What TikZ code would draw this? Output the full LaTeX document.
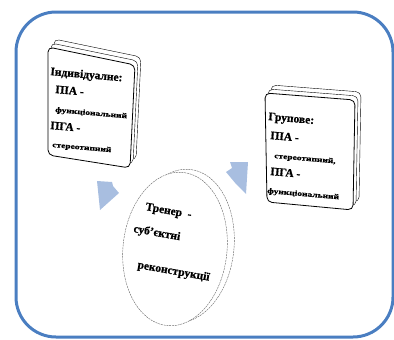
\documentclass[tikz,border=0pt]{standalone}
\usepackage{fontspec}
\setmainfont{Liberation Serif}[BoldFeatures={FakeBold=0.8}]
\newfontfamily\widefont{Liberation Serif}[FakeStretch=1.3, BoldFeatures={FakeBold=0.8}]
\definecolor{frameblue}{RGB}{74,126,193}
\definecolor{arrowblue}{RGB}{168,190,224}
\tikzset{
  bigtxt/.style={font=\fontsize{11.5}{12}\selectfont\bfseries, inner sep=0pt, anchor=base west},
  smalltxt/.style={font=\widefont\fontsize{7.3}{8}\selectfont\bfseries, inner sep=0pt, anchor=base west},
  layer/.style={draw=black, rounded corners=5pt, fill=white},
  disc/.style={draw=black!60, dash pattern=on 2pt off 0.8pt, fill=white}
}
\begin{document}
\begin{tikzpicture}[x=1pt,y=-1pt]
  \useasboundingbox (0,0) rectangle (394,340);

  %% frame
  \draw[frameblue, line width=3pt, rounded corners=40pt] (16,12) rectangle (393,337);

  %% left box (individual)
  \draw[layer, thin] (54,39) -- (141,57) -- (136,160) -- (54,147) -- cycle;
  \draw[layer, thin] (51,43) -- (138,61) -- (133,164) -- (51,151) -- cycle;
  \draw[layer, thick] (48,47) -- (135,65) -- (130,168) -- (48,155) -- cycle;

  %% right box (group)
  \draw[layer, thin] (271,85) -- (361,92) -- (359,202) -- (273,194) -- cycle;
  \draw[layer, thin] (268,89) -- (358,96) -- (356,206) -- (270,198) -- cycle;
  \draw[layer, thick] (265,93) -- (355,100) -- (353,210) -- (267,202) -- cycle;

  %% arrows
  \fill[arrowblue] (97,181) -- (112,182) -- (113,186) -- (119,193) -- (100,210) -- cycle;
  \fill[arrowblue] (230,162) -- (248,162) -- (246,194) -- (236,184) -- (226,172) -- (232,168) -- cycle;

  %% disc (coach)
  \draw[disc] (182,246) ellipse [x radius=52, y radius=77, rotate=-6];
  \draw[disc] (175,249) ellipse [x radius=52, y radius=77, rotate=-6];

  %% left text
  \node[bigtxt, rotate=-5] (ind) at (50,75) {Індивідуалне:};
  \node[bigtxt, rotate=-5] (pia1) at (55,93) {ПІА -};
  \node[smalltxt, rotate=-5] (func1) at (55,112) {функціональний};
  \node[bigtxt, rotate=-5] (pga1) at (50,129) {ПГА  -};
  \node[smalltxt, rotate=-5] (ster1) at (52,147) {стереотипний};

  %% right text
  \node[bigtxt, rotate=-5] (grp) at (268,120) {Групове:};
  \node[bigtxt, rotate=-5] (pia2) at (270,139) {ПІА -};
  \node[smalltxt, rotate=-5] (ster2) at (274,158) {стереотипний,};
  \node[bigtxt, rotate=-5] (pga2) at (270,175) {ПГА -};
  \node[smalltxt, rotate=-5] (func2) at (267,193) {функціональний};

  %% disc text
  \node[bigtxt, rotate=-10] (coach) at (145,210) {Тренер \ -};
  \node[bigtxt, rotate=-10] (subj) at (133,232) {суб'єктні};
  \node[bigtxt, rotate=-10] (recon) at (137,268) {реконструкції};
\end{tikzpicture}
\end{document}
